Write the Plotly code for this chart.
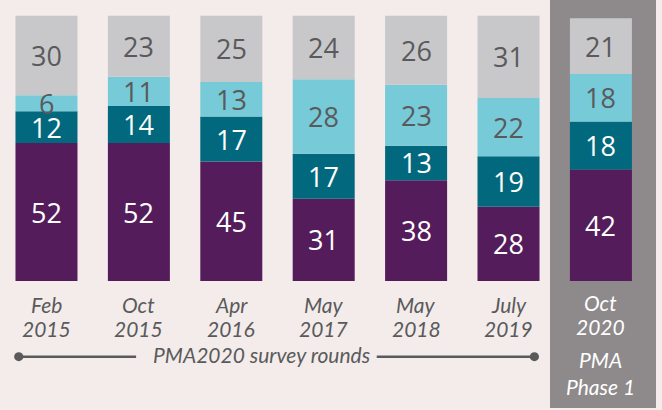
import plotly.graph_objects as go

# Survey rounds (month, year) and share of each group, bottom to top
months = ["Feb", "Oct", "Apr", "May", "May", "July", "Oct"]
years = ["2015", "2015", "2016", "2017", "2018", "2019", "2020"]
purple_vals = [52, 52, 45, 31, 38, 28, 42]
teal_vals = [12, 14, 17, 17, 13, 19, 18]
lightblue_vals = [6, 11, 13, 28, 23, 22, 18]
grey_vals = [30, 23, 25, 24, 26, 31, 21]

series = [
    (purple_vals, "#541c5b", "white"),
    (teal_vals, "#02687d", "white"),
    (lightblue_vals, "#77cad8", "#5a5a5c"),
    (grey_vals, "#c8c8ca", "#5a5a5c"),
]

BG = "#f3ecea"
PANEL = "#8e8a8b"
LABEL_GREY = "#5a5a5c"
NUM_FONT = "Open Sans"
CAP_FONT = "Lato"
CAP_SIZE = 21

xs = list(range(len(months)))
fig = go.Figure()

annotations = []
base = [0] * len(xs)
for vals, color, txtcol in series:
    fig.add_trace(go.Bar(
        x=xs, y=vals, base=base, width=0.671,
        marker=dict(color=color, line=dict(width=0)),
        hoverinfo="skip", showlegend=False,
    ))
    for i, v in enumerate(vals):
        annotations.append(dict(
            x=i, y=base[i] + v / 2, xref="x", yref="y",
            text=str(v), showarrow=False, yanchor="middle",
            height=27, valign="middle",
            font=dict(family=NUM_FONT, size=27, color=txtcol),
        ))
    base = [b + v for b, v in zip(base, vals)]


def caption(x, y, text, color):
    return dict(x=x, y=y, xref="x", yref="y", text="<i>" + text + "</i>",
                showarrow=False, yanchor="middle",
                font=dict(family=CAP_FONT, size=CAP_SIZE, color=color))


# Round labels under the bars
last = len(months) - 1
for i, (m, yr) in enumerate(zip(months, years)):
    col = "white" if i == last else LABEL_GREY
    dy = 0.7 if i == last else 0.0
    annotations.append(caption(i, -8.75 + dy, m, col))
    annotations.append(caption(i, -17.9 + dy, yr, col))

annotations.append(caption(2.327, -27.6, "PMA2020 survey rounds", LABEL_GREY))
annotations.append(caption(6, -29.7, "PMA", "white"))
annotations.append(caption(6, -39.6, "Phase 1", "white"))

LINE_Y = -28.5
shapes = [
    # grey panel behind the Phase 1 bar
    dict(type="rect", xref="paper", yref="paper",
         x0=550 / 662, x1=656 / 662, y0=2 / 410, y1=1,
         fillcolor=PANEL, line=dict(width=0), layer="below"),
    # bracket line for the PMA2020 rounds
    dict(type="line", xref="x", yref="y", x0=-0.3, x1=0.97,
         y0=LINE_Y, y1=LINE_Y, line=dict(color=LABEL_GREY, width=2.5)),
    dict(type="line", xref="x", yref="y", x0=3.574, x1=5.28,
         y0=LINE_Y, y1=LINE_Y, line=dict(color=LABEL_GREY, width=2.5)),
]
for cx in (-0.3, 5.28):
    shapes.append(dict(type="circle", xref="x", yref="y",
                       x0=cx - 0.05, x1=cx + 0.05,
                       y0=LINE_Y - 1.7, y1=LINE_Y + 1.7,
                       fillcolor=LABEL_GREY, line=dict(width=0)))

fig.update_layout(
    width=662, height=410,
    margin=dict(l=0, r=0, t=0, b=0),
    paper_bgcolor=BG, plot_bgcolor="rgba(0,0,0,0)",
    barmode="overlay",
    xaxis=dict(range=[-0.503, 6.661], visible=False, fixedrange=True),
    yaxis=dict(range=[-48.6, 105.9], visible=False, fixedrange=True),
    annotations=annotations, shapes=shapes,
)

fig.write_html("out.html")
